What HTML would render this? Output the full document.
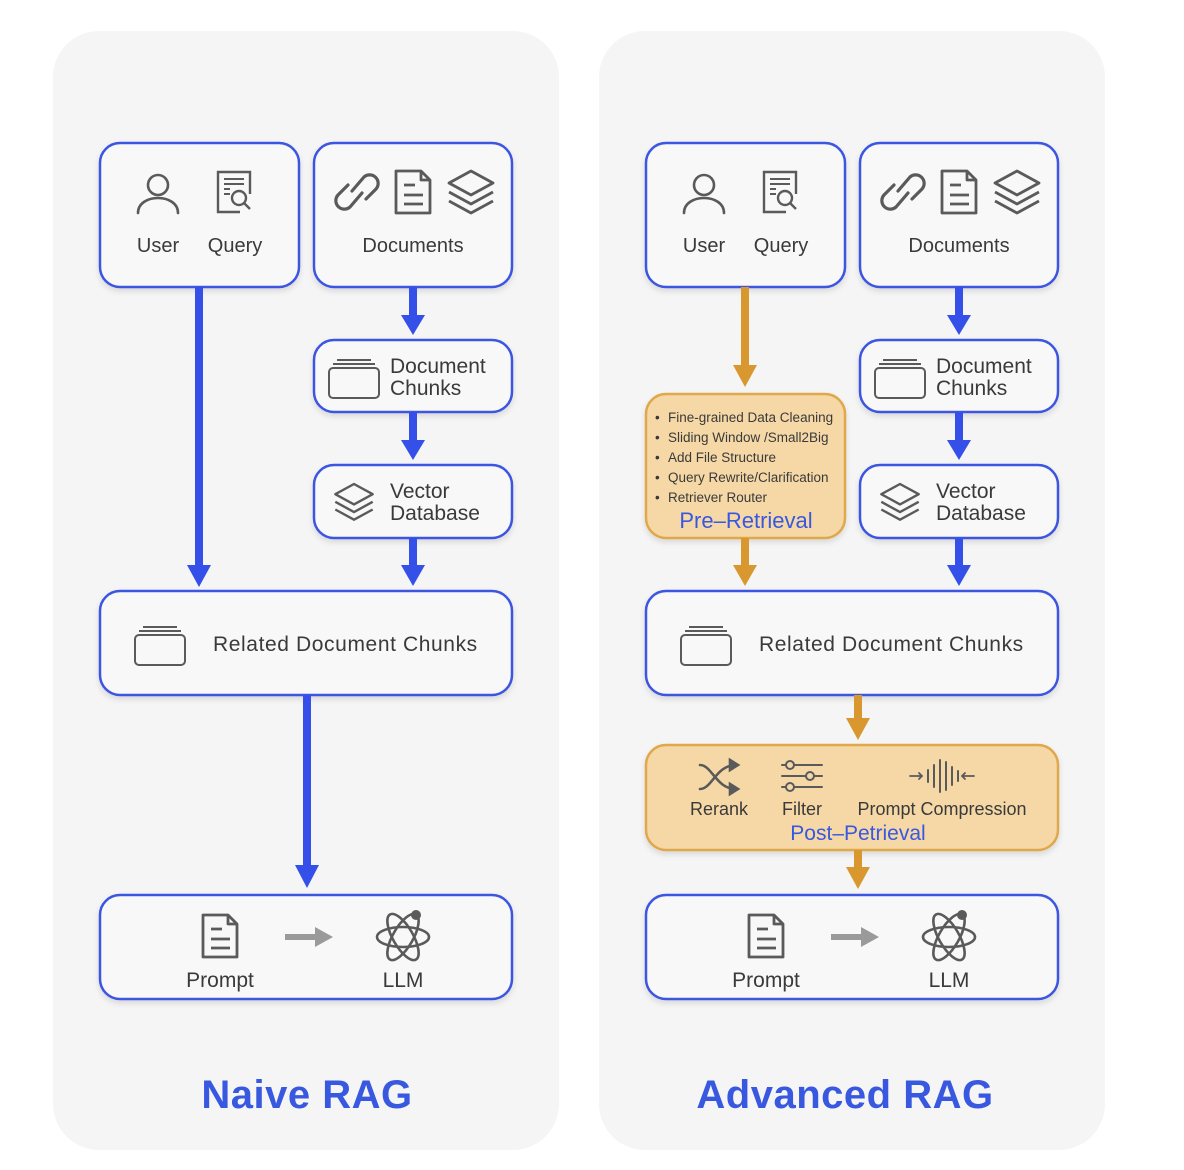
<!DOCTYPE html>
<html><head><meta charset="utf-8"><style>
html,body{margin:0;padding:0;background:#fff;}
svg{display:block;}
text{font-family:"Liberation Sans",sans-serif;fill:#3a3a3a;}
</style></head><body>
<svg width="1184" height="1170" viewBox="0 0 1184 1170" xmlns="http://www.w3.org/2000/svg">
<defs>
<filter id="sh" x="-10%" y="-10%" width="120%" height="130%"><feDropShadow dx="0" dy="3" stdDeviation="3" flood-color="#000" flood-opacity="0.12"/></filter>
<g id="user" fill="none" stroke="#5a5a5a" stroke-width="2.6" stroke-linecap="round"><circle cx="0" cy="-8" r="10"/><path d="M-20 20 C-20 0 20 0 20 20"/></g>
<g id="query" fill="none" stroke="#5a5a5a" stroke-width="2.4"><path d="M6 20 H-16 V-20 H16 V2"/><path d="M-10 -13 H10 M-10 -8 H10 M-10 -3 H-4 M-10 2 H-4" stroke-width="2"/><circle cx="5" cy="6" r="7"/><path d="M10 11 L16 17"/></g>
<g id="link" fill="none" stroke="#5a5a5a" stroke-width="3.2" stroke-linecap="round"><path d="M-5 -1 L7 -15 A8.5 8.5 0 0 1 19 -3 L9 7"/><path d="M5 1 L-7 15 A8.5 8.5 0 0 1 -19 3 L-9 -7"/></g>
<g id="doc" fill="none" stroke="#5a5a5a" stroke-width="2.8" stroke-linejoin="round"><path d="M-17 -21 H8 L17 -12 V21 H-17 Z"/><path d="M8 -21 V-12 H17"/><path d="M-9 -7 H2 M-9 3 H10 M-9 12 H10"/></g>
<g id="layers" fill="none" stroke="#5a5a5a" stroke-width="2.8" stroke-linejoin="round"><path d="M0 -20 L22 -8 L0 4 L-22 -8 Z"/><path d="M-22 1 L0 13 L22 1"/><path d="M-22 10 L0 22 L22 10"/></g>
<g id="chunks" fill="none" stroke="#5a5a5a" stroke-width="2"><rect x="-25" y="-10" width="50" height="30" rx="4"/><path d="M-21 -14 H21 M-17 -18 H17"/></g>
<g id="atom" fill="none" stroke="#5a5a5a" stroke-width="2.6"><ellipse cx="0" cy="0" rx="26" ry="10"/><ellipse cx="0" cy="0" rx="26" ry="10" transform="rotate(60)"/><ellipse cx="0" cy="0" rx="26" ry="10" transform="rotate(-60)"/><circle cx="13" cy="-22" r="5" fill="#5a5a5a" stroke="none"/></g>
<g id="garrow"><path d="M-24 -3 H6 V-10 L24 0 L6 10 V3 H-24 Z" fill="#9a9a9a"/></g>
</defs>

<rect x="53" y="31" width="506" height="1119" rx="46" fill="#f5f5f6"/>
<rect x="599" y="31" width="506" height="1119" rx="46" fill="#f5f5f6"/>

<!-- LEFT -->
<g>
<g fill="#f8f8f9" stroke="#3c57e0" stroke-width="2.5" filter="url(#sh)">
<rect x="100" y="143" width="199" height="144" rx="20"/>
<rect x="314" y="143" width="198" height="144" rx="20"/>
<rect x="314" y="340" width="198" height="72" rx="20"/>
<rect x="314" y="465" width="198" height="73" rx="20"/>
<rect x="100" y="591" width="412" height="104" rx="20"/>
<rect x="100" y="895" width="412" height="104" rx="20"/>
</g>
<use href="#user" x="158" y="193"/>
<use href="#query" x="234" y="192"/>
<text x="158" y="252" font-size="20" text-anchor="middle">User</text>
<text x="235" y="252" font-size="20" text-anchor="middle">Query</text>
<use href="#link" x="357" y="192"/>
<use href="#doc" x="413" y="192"/>
<use href="#layers" x="471" y="191"/>
<text x="413" y="252" font-size="20" text-anchor="middle">Documents</text>
<use href="#chunks" x="354" y="378"/>
<text x="390" y="373" font-size="21">Document</text>
<text x="390" y="395" font-size="21">Chunks</text>
<use href="#layers" x="354" y="501" transform="translate(354 501) scale(0.85) translate(-354 -501)"/>
<text x="390" y="498" font-size="21">Vector</text>
<text x="390" y="520" font-size="21">Database</text>
<use href="#chunks" x="160" y="645"/>
<text x="213" y="651" font-size="21" letter-spacing="0.6">Related Document Chunks</text>
<use href="#doc" x="220" y="936"/>
<text x="220" y="987" font-size="21" text-anchor="middle">Prompt</text>
<use href="#garrow" x="309" y="937"/>
<use href="#atom" x="403" y="937"/>
<text x="403" y="987" font-size="21" text-anchor="middle">LLM</text>
<g fill="#3450e8">
<rect x="195" y="287" width="8" height="280"/><path d="M187 565 H211 L199 587 Z"/>
<rect x="409" y="287" width="8" height="30"/><path d="M401 315 H425 L413 335 Z"/>
<rect x="409" y="412" width="8" height="30"/><path d="M401 440 H425 L413 460 Z"/>
<rect x="409" y="538" width="8" height="29"/><path d="M401 565 H425 L413 586 Z"/>
<rect x="303" y="695" width="8" height="172"/><path d="M295 865 H319 L307 888 Z"/>
</g>
<text x="307" y="1108" font-size="40" font-weight="bold" text-anchor="middle" letter-spacing="0.5" style="fill:#3858e0">Naive RAG</text>
</g>

<!-- RIGHT -->
<g>
<g fill="#f8f8f9" stroke="#3c57e0" stroke-width="2.5" filter="url(#sh)">
<rect x="646" y="143" width="199" height="144" rx="20"/>
<rect x="860" y="143" width="198" height="144" rx="20"/>
<rect x="860" y="340" width="198" height="72" rx="20"/>
<rect x="860" y="465" width="198" height="73" rx="20"/>
<rect x="646" y="591" width="412" height="104" rx="20"/>
<rect x="646" y="895" width="412" height="104" rx="20"/>
</g>
<g fill="#f5d8a6" stroke="#e0a74c" stroke-width="2.5" filter="url(#sh)">
<rect x="646" y="394" width="199" height="144" rx="20"/>
<rect x="646" y="745" width="412" height="105" rx="20"/>
</g>
<use href="#user" x="704" y="193"/>
<use href="#query" x="780" y="192"/>
<text x="704" y="252" font-size="20" text-anchor="middle">User</text>
<text x="781" y="252" font-size="20" text-anchor="middle">Query</text>
<use href="#link" x="903" y="192"/>
<use href="#doc" x="959" y="192"/>
<use href="#layers" x="1017" y="191"/>
<text x="959" y="252" font-size="20" text-anchor="middle">Documents</text>
<use href="#chunks" x="900" y="378"/>
<text x="936" y="373" font-size="21">Document</text>
<text x="936" y="395" font-size="21">Chunks</text>
<use href="#layers" x="900" y="501" transform="translate(900 501) scale(0.85) translate(-900 -501)"/>
<text x="936" y="498" font-size="21">Vector</text>
<text x="936" y="520" font-size="21">Database</text>
<g font-size="13.5">
<text x="655" y="422">•</text><text x="668" y="422">Fine-grained Data Cleaning</text>
<text x="655" y="442">•</text><text x="668" y="442">Sliding Window /Small2Big</text>
<text x="655" y="462">•</text><text x="668" y="462">Add File Structure</text>
<text x="655" y="482">•</text><text x="668" y="482">Query Rewrite/Clarification</text>
<text x="655" y="502">•</text><text x="668" y="502">Retriever Router</text>
</g>
<text x="746" y="528" font-size="22" text-anchor="middle" style="fill:#3858e0">Pre–Retrieval</text>
<use href="#chunks" x="706" y="645"/>
<text x="759" y="651" font-size="21" letter-spacing="0.6">Related Document Chunks</text>
<g fill="none" stroke="#5a5a5a" stroke-width="2.6" stroke-linecap="round">
<path d="M700 765 C712 765 716 789 736 789 M700 789 C712 789 716 765 736 765"/>
<path d="M730 760 L738 765 L730 770 Z M730 784 L738 789 L730 794 Z" fill="#5a5a5a"/>
<path d="M782 765 H822 M782 776 H822 M782 787 H822" stroke-width="2"/>
<circle cx="790" cy="765" r="4" fill="#f5d8a6" stroke-width="2"/><circle cx="810" cy="776" r="4" fill="#f5d8a6" stroke-width="2"/><circle cx="790" cy="787" r="4" fill="#f5d8a6" stroke-width="2"/>
<path d="M910 776 H922 M919 773 L922 776 L919 779 M974 776 H962 M965 773 L962 776 L965 779" stroke-width="1.8"/>
<path d="M928 770 V782 M934 765 V787 M940 760 V792 M946 762 V790 M952 767 V785 M958 771 V781" stroke-width="2"/>
</g>
<text x="719" y="815" font-size="18" text-anchor="middle">Rerank</text>
<text x="802" y="815" font-size="18" text-anchor="middle">Filter</text>
<text x="942" y="815" font-size="18" text-anchor="middle">Prompt Compression</text>
<text x="858" y="840" font-size="21" text-anchor="middle" style="fill:#3858e0">Post–Petrieval</text>
<use href="#doc" x="766" y="936"/>
<text x="766" y="987" font-size="21" text-anchor="middle">Prompt</text>
<use href="#garrow" x="855" y="937"/>
<use href="#atom" x="949" y="937"/>
<text x="949" y="987" font-size="21" text-anchor="middle">LLM</text>
<g fill="#3450e8">
<rect x="955" y="287" width="8" height="30"/><path d="M947 315 H971 L959 335 Z"/>
<rect x="955" y="412" width="8" height="30"/><path d="M947 440 H971 L959 460 Z"/>
<rect x="955" y="538" width="8" height="29"/><path d="M947 565 H971 L959 586 Z"/>
</g>
<g fill="#d9982f">
<rect x="741" y="287" width="8" height="80"/><path d="M733 365 H757 L745 387 Z"/>
<rect x="741" y="538" width="8" height="29"/><path d="M733 565 H757 L745 586 Z"/>
<rect x="854" y="695" width="8" height="25"/><path d="M846 718 H870 L858 740 Z"/>
<rect x="854" y="850" width="8" height="19"/><path d="M846 867 H870 L858 889 Z"/>
</g>
<text x="845" y="1108" font-size="40" font-weight="bold" text-anchor="middle" letter-spacing="0.5" style="fill:#3858e0">Advanced RAG</text>
</g>
</svg>
</body></html>
